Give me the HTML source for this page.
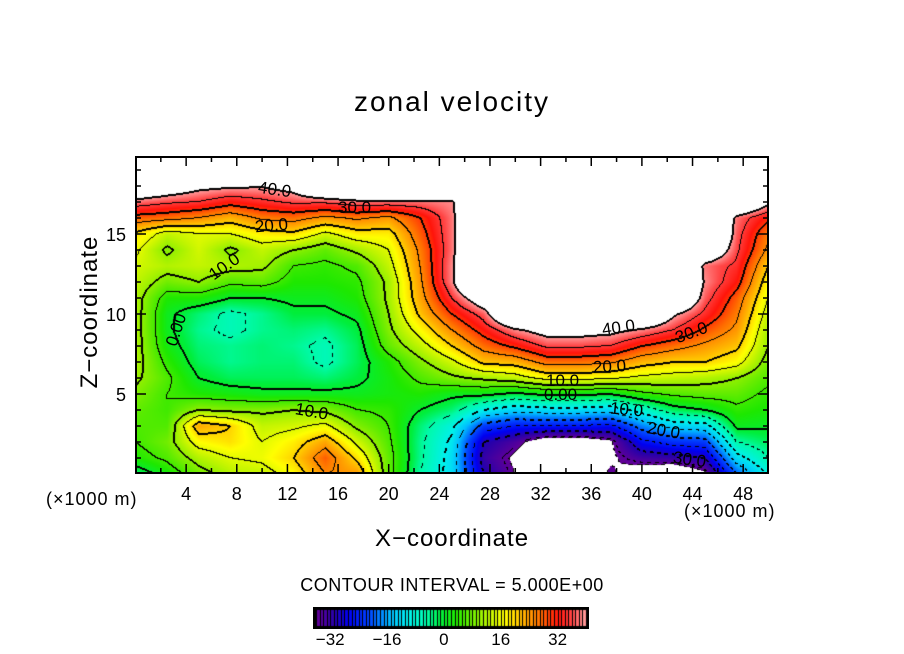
<!DOCTYPE html>
<html><head><meta charset="utf-8">
<style>
html,body{margin:0;padding:0;background:#fff;}
body{width:904px;height:654px;position:relative;overflow:hidden;font-family:"Liberation Sans",sans-serif;color:#000;}
.t{position:absolute;white-space:nowrap;}
.lbl{position:absolute;font-size:17px;white-space:nowrap;transform-origin:center;}
</style></head>
<body>
<div class="t" style="left:0;width:904px;text-align:center;top:86px;font-size:28px;letter-spacing:2px;">zonal velocity</div>
<canvas id="field" width="632" height="316" style="position:absolute;left:136px;top:157px;"></canvas>
<svg id="axes" width="904" height="654" style="position:absolute;left:0;top:0;"></svg>
<div id="labels"></div>
<div class="t" style="left:46px;top:489px;font-size:18px;letter-spacing:1px;">(×1000 m)</div>
<div class="t" style="left:684px;top:501px;font-size:18px;letter-spacing:1px;">(×1000 m)</div>
<div class="t" style="left:0;width:904px;text-align:center;top:525px;font-size:24px;letter-spacing:1px;">X−coordinate</div>
<div class="t" style="left:10px;top:298px;width:160px;text-align:center;font-size:24px;letter-spacing:1px;transform:rotate(-90deg);transform-origin:center;">Z−coordinate</div>
<div class="t" style="left:0;width:904px;text-align:center;top:575px;font-size:18px;letter-spacing:0.5px;">CONTOUR INTERVAL = 5.000E+00</div>
<canvas id="cbar" width="276" height="22" style="position:absolute;left:313px;top:607px;"></canvas>
<div id="cbticks"></div>
<script>
// ---- data ----
const xCoords = [0,2.5,5,7.5,10,12.5,15,17.5,20,22.5,25,27.5,30,32.5,35,37.5,40,42.5,45,47.5,50];
const zCoords = [0,1,2,3,4,5,6,7,8,9,10,11,12,13,14,15,16,17,18,19,20];
// u[ix] = column of values for z = 0..20
const u = [
 [-3,3,5,6,7,9,11,12,12,12,12,12,13,14,16,19,28,38,50,60,60],
 [2,6,8,6,5,5,6,4,2,1,1,3,8,12,9,13,27,36,46,60,60],
 [8,12,17,23,10,3,0,-2,-3,-4,-3,3,10,13,14,15,25,35,42,60,60],
 [12,15,19,20,9,2,-2,-4,-4,-6,-6,0,6,12,9,15,22,32,41,60,60],
 [13,16,15,13,9,1,-2,-3,-3,-4,-4,0,7,11,13,18,26,34,40.5,60,60],
 [17,20,18,14,10,1,-2,-3,-4,-3,-1,1,3,5,10,19,27,36,43,60,60],
 [25,28,23,16,9,1,-3,-6,-6,-4,-1,1,3,4,7,14,24,36,55,60,60],
 [24,19,14,9,5,1,-1,-2,-2,-1,1,3,4,6,11,18,26,38,60,60,60],
 [7,7,6,5,4,2,2,3,7,9,10,11,11,13,15,18,24,38,60,60,60],
 [-5,-4,-4,-3,0,3,6,9,13,17,21,23,24,25,26,28,30,38,60,60,60],
 [-12,-12,-11,-9,-3,1,9,14,20,25,30,35,39,39,38,38,38,39,60,60,60],
 [-30,-32,-30,-22,-10,1,11,21,27,32,37,46,60,60,60,60,60,60,60,60,60],
 [-36,-37,-34,-25,-13,-1,13,22,31,39,55,60,60,60,60,60,60,60,60,60,60],
 [-45,-45,-40,-25,-12,1,17,27,36,43,60,60,60,60,60,60,60,60,60,60,60],
 [-45,-45,-40,-25,-12,1,17,27,36,43,60,60,60,60,60,60,60,60,60,60,60],
 [-35,-37,-37,-26,-13,0,16,26,35,42,60,60,60,60,60,60,60,60,60,60,60],
 [-40,-33,-26,-18,-8,4,14,22,30,39,55,60,60,60,60,60,60,60,60,60,60],
 [-42,-32,-23,-13,-2,6,13,20,27,35,41,55,60,60,60,60,60,60,60,60,60],
 [-37,-30,-22,-12,0,7,12,20,24,29,34,37,39,38,50,60,60,60,60,60,60],
 [-20,-12,-5,1,4,7,10,17,21,24,26,28,32,34,36,37,38,55,60,60,60],
 [-9,-5,-2,0.5,2.5,4,6,8,10,11,13,15,17,20,24,26,31,42,60,60,60]
];
const xTicks = [4,8,12,16,20,24,28,32,36,40,44,48];
const zTicks = [5,10,15];
const cbTicks = [-32,-16,0,16,32];
const fillMin = -36, fillMax = 40, contourStep = 5;
const contourLabels = [
 ["40.0",276,190,8],["30.0",356,208,0],["20.0",273,226,-5],["10.0",226,267,-35],["0.00",178,330,-72],
 ["10.0",313,412,10],["40.0",620,328,-8],["30.0",693,333,-20],["20.0",611,367,-3],["10.0",564,381,0],
 ["0.00",562,395,0],["10.0",628,410,5],["20.0",665,431,10],["30.0",691,460,8]
];
// ---- scales ----
const P = {left:135.5, right:768.5, bottom:474, top:157};
function xScale(x){ return P.left + (x-0)/(50-0)*(P.right-P.left); }
function zScale(z){ return P.bottom - z*16; }
function xInv(px){ return (px-P.left)/(P.right-P.left)*50; }
function zInv(py){ return (P.bottom-py)/16; }
const stops = [[-36,[100,0,150]],[-31,[40,0,170]],[-27,[0,0,240]],[-21,[0,70,255]],[-15,[0,190,255]],[-10,[0,240,235]],[-5,[0,250,170]],[-1,[0,238,60]],[3,[30,232,0]],[9,[130,238,0]],[13,[195,245,0]],[17,[255,255,0]],[22,[255,180,0]],[27,[255,110,0]],[32,[255,20,10]],[36,[255,70,70]],[40,[255,160,160]]];
function color(v){
  for(let i=1;i<stops.length;i++){
    if(v<=stops[i][0]){const a=stops[i-1],b=stops[i];const t=Math.max(0,(v-a[0])/(b[0]-a[0]));
      return a[1].map((c,k)=>Math.round(c+(b[1][k]-c)*t));}
  }
  return stops[stops.length-1][1];
}
function sample(x,z){
  let fx=Math.min(Math.max(x/2.5,0),19.9999), fz=Math.min(Math.max(z/1,0),19.9999);
  const i=Math.floor(fx), j=Math.floor(fz), tx=fx-i, tz=fz-j;
  const a=u[i][j], b=u[i+1][j], c=u[i][j+1], d=u[i+1][j+1];
  return a*(1-tx)*(1-tz)+b*tx*(1-tz)+c*(1-tx)*tz+d*tx*tz;
}
// ---- field ----
(function(){
  const cv=document.getElementById('field'), ctx=cv.getContext('2d');
  const W=cv.width,H=cv.height, img=ctx.createImageData(W,H);
  const vals=new Float32Array(W*H), lev=new Int16Array(W*H);
  for(let py=0;py<H;py++)for(let px=0;px<W;px++){
    const v=sample(xInv(136+px+0.5), zInv(157+py+0.5));
    vals[py*W+px]=v;
    lev[py*W+px]= v>fillMax? 99 : (v<fillMin? -99 : Math.floor(v/contourStep));
  }
  const line=new Uint8Array(W*H);
  function mark(p,q,px,py){
    const a=lev[p],b=lev[q]; if(a===b) return;
    let cvv;
    if(a===99||b===99) cvv=40; else if(a===-99||b===-99) cvv=-36; else cvv=Math.max(a,b)*contourStep;
    if(cvv<0 && ((px+py)>>2)&1) return;
    line[p]=1; if(cvv%10===0) line[q]=1;
  }
  for(let py=0;py<H;py++)for(let px=0;px<W;px++){
    const p=py*W+px;
    if(px<W-1) mark(p,p+1,px,py);
    if(py<H-1) mark(p,p+W,px,py);
  }
  for(let p=0;p<W*H;p++){
    let c;
    if(line[p]) c=[0,0,0]; else if(lev[p]===99||lev[p]===-99) c=[255,255,255]; else c=color(vals[p]);
    img.data[p*4]=c[0];img.data[p*4+1]=c[1];img.data[p*4+2]=c[2];img.data[p*4+3]=255;
  }
  ctx.putImageData(img,0,0);
})();
// ---- axes ----
(function(){
  const svg=document.getElementById('axes'), NS='http://www.w3.org/2000/svg';
  function add(tag,attrs,name){const e=document.createElementNS(NS,tag);for(const k in attrs)e.setAttribute(k,attrs[k]);
    
    
    svg.appendChild(e);return e;}
  add('rect',{x:136,y:157,width:632,height:316,fill:'none',stroke:'#000','stroke-width':2},'plot-frame');
  for(let x=2;x<50;x+=2){
    const X=xScale(x), L=(x%4===0)?9:5;
    add('line',{x1:X,y1:157,x2:X,y2:157+L,stroke:'#000','stroke-width':1.5},'x-tick-top');
    add('line',{x1:X,y1:473,x2:X,y2:473-L,stroke:'#000','stroke-width':1.5},'x-tick-bottom');
  }
  for(let z=1;z<20;z++){
    const Y=zScale(z), L=(z%5===0)?10:5;
    add('line',{x1:136,y1:Y,x2:136+L,y2:Y,stroke:'#000','stroke-width':1.5},'z-tick-left');
    add('line',{x1:768,y1:Y,x2:768-L,y2:Y,stroke:'#000','stroke-width':1.5},'z-tick-right');
  }
  xTicks.forEach(x=>{const t=add('text',{x:xScale(x),y:500,'text-anchor':'middle','font-size':18,'font-family':'Liberation Sans, sans-serif'},'x-tick-label');t.textContent=x;});
  zTicks.forEach(z=>{const t=add('text',{x:126,y:zScale(z)+7,'text-anchor':'end','font-size':18,'font-family':'Liberation Sans, sans-serif'},'z-tick-label');t.textContent=z;});
})();
// ---- contour labels ----
(function(){
  const box=document.getElementById('labels');
  contourLabels.forEach(l=>{
    const d=document.createElement('div');
    
    
    d.className='lbl'; d.textContent=l[0];
    d.style.left=(l[1]-18)+'px'; d.style.top=(l[2]-10)+'px'; d.style.transform='rotate('+l[3]+'deg)';
    box.appendChild(d);
  });
})();
// ---- colorbar ----
(function(){
  const cv=document.getElementById('cbar'), ctx=cv.getContext('2d');
  ctx.fillStyle='#000'; ctx.fillRect(0,0,276,22);
  const x0=3, w=270, n=fillMax-fillMin;
  for(let k=0;k<n;k++){
    const v=fillMin+k+0.5, c=color(v);
    const a=x0+k*w/n, b=x0+(k+1)*w/n;
    ctx.fillStyle='rgb('+c.join(',')+')';
    ctx.fillRect(Math.round(a)+1,3,Math.max(1,Math.round(b)-Math.round(a)-1),16);
  }
  const box=document.getElementById('cbticks');
  cbTicks.forEach(t=>{
    const d=document.createElement('div');
    
    
    d.className='t'; d.style.fontSize='17px';
    d.textContent=(t<0?'−'+(-t):String(t));
    const px=313+x0+(t-fillMin)/n*w;
    d.style.left=(px-25)+'px'; d.style.width='50px'; d.style.textAlign='center'; d.style.top='630px';
    box.appendChild(d);
  });
})();
</script>
</body></html>
